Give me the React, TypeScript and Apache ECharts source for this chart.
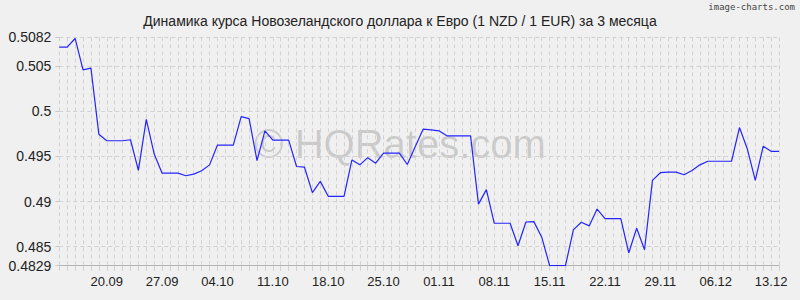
import React, { useEffect, useRef } from "react";
import * as echarts from "echarts";

const titleText = "Динамика курса Новозеландского доллара к Евро (1 NZD / 1 EUR) за 3 месяца";

// Daily dates, 14.09 .. 14.12
const monthSpans: [string, number, number][] = [
  ["09", 14, 30],
  ["10", 1, 31],
  ["11", 1, 30],
  ["12", 1, 14],
];
const categories: string[] = [];
for (const [m, from, to] of monthSpans) {
  for (let d = from; d <= to; d++) categories.push(String(d).padStart(2, "0") + "." + m);
}

const tickLabels = [
  "20.09", "27.09", "04.10", "11.10", "18.10", "25.10", "01.11",
  "08.11", "15.11", "22.11", "29.11", "06.12", "13.12",
];

const rates = [
  0.50712, 0.50712, 0.50807, 0.5046, 0.50478, 0.49747, 0.49674, 0.49674, 0.49674, 0.49685,
  0.49345, 0.49911, 0.49527, 0.49315, 0.49315, 0.49315, 0.49286, 0.49304, 0.49341, 0.49407,
  0.49626, 0.49626, 0.49626, 0.49941, 0.49919, 0.49454, 0.49783, 0.49681, 0.49681, 0.49681,
  0.49389, 0.49381, 0.491, 0.49224, 0.49059, 0.49059, 0.49059, 0.49462, 0.49407, 0.49487,
  0.49425, 0.49538, 0.49538, 0.49538, 0.49411, 0.49608, 0.49802, 0.49794, 0.49784, 0.49729,
  0.49729, 0.49729, 0.49729, 0.48972, 0.49133, 0.4876, 0.4876, 0.4876, 0.48511, 0.48774,
  0.48778, 0.48606, 0.4829, 0.4829, 0.4829, 0.48687, 0.48771, 0.48731, 0.48917, 0.48811,
  0.48811, 0.48811, 0.48431, 0.48705, 0.48467, 0.49235, 0.4932, 0.49326, 0.49326, 0.49297,
  0.49345, 0.49407, 0.49447, 0.49447, 0.49447, 0.49447, 0.4982, 0.49582, 0.49235, 0.49612,
  0.49557, 0.49557,
];

const yMin = 0.4829;
const yMax = 0.5082;
const yTicks = [0.4829, 0.485, 0.49, 0.495, 0.5, 0.505, 0.5082];

export default function App() {
  const ref = useRef<HTMLDivElement>(null);
  useEffect(() => {
    if (!ref.current) return;
    const chart = echarts.init(ref.current, null, { renderer: "svg" });
    const font = '"Liberation Sans", Arial, sans-serif';
    chart.setOption({
      animation: false,
      backgroundColor: "#f0f0f0",
      textStyle: { fontFamily: font },
      title: {
        text: titleText,
        left: "center",
        top: 9,
        textStyle: { fontSize: 14, fontWeight: "normal", color: "#222", fontFamily: font },
      },
      graphic: [
        {
          type: "text",
          left: "center",
          top: 124,
          z: 0,
          style: {
            text: "© HQRates.com",
            font: '40px "Liberation Sans", Arial, sans-serif',
            fill: "rgba(0,0,0,0.16)",
          },
        },
        {
          type: "text",
          right: 5,
          top: 2,
          style: {
            text: "image-charts.com",
            font: '9px "DejaVu Sans Mono", monospace',
            fill: "#444",
          },
        },
      ],
      grid: { left: 59.3, right: 21, top: 37.3, bottom: 34.3, containLabel: false },
      xAxis: {
        type: "category",
        data: categories,
        boundaryGap: false,
        axisLine: { show: true, lineStyle: { color: "#b4b4b4", width: 1 } },
        axisTick: { show: true, interval: 0, length: 5, lineStyle: { color: "#d0d0d0" } },
        axisLabel: {
          interval: (_i: number, v: string) => tickLabels.includes(v),
          fontSize: 13,
          color: "#222",
          margin: 9,
          fontFamily: font,
        },
        splitLine: {
          show: true,
          interval: 0,
          lineStyle: { color: "#d2d2d2", type: [4, 3], width: 1 },
        },
      },
      yAxis: {
        type: "value",
        min: yMin,
        max: yMax,
        axisLine: { show: false },
        axisTick: { show: true, length: 4, customValues: yTicks, lineStyle: { color: "#c8c8c8" } },
        axisLabel: {
          customValues: yTicks,
          fontSize: 14,
          color: "#222",
          margin: 8,
          fontFamily: font,
          formatter: (v: number) => String(v),
        },
        splitLine: {
          show: true,
          lineStyle: { color: "#d2d2d2", type: [4, 3], width: 1 },
        },
      },
      series: [
        {
          type: "line",
          data: rates,
          symbol: "none",
          z: 5,
          lineStyle: { color: "#2424ff", width: 1.2 },
        },
      ],
    });
    return () => chart.dispose();
  }, []);
  return (
    <div
      ref={ref}
      style={{ position: "fixed", left: 0, top: 0, width: 800, height: 300 }}
    />
  );
}
